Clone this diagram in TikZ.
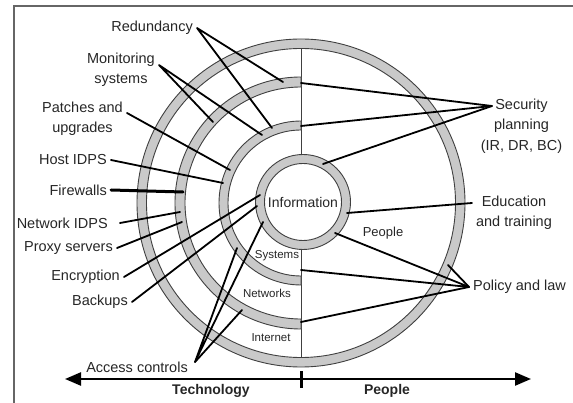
\documentclass[tikz,border=0pt]{standalone}
\usepackage{fontspec}
\setmainfont{Liberation Sans}
\usetikzlibrary{arrows.meta,positioning}

\begin{document}
\begin{tikzpicture}[
x=1pt, y=-1pt,
every node/.style={text=black!85},
lbl/.style={
font=\fontsize{14.5}{20.5}\selectfont,
inner xsep=4pt,
inner ysep=1pt,
align=center
},
zone/.style={font=\fontsize{11.5}{13}\selectfont, inner sep=1pt},
band/.style={draw=black!75, line width=0.9pt, fill=black!21},
lead/.style={line width=1.8pt, line cap=round, line join=round},
axis/.style={{Triangle[length=16pt,width=13pt]}-{Triangle[length=16pt,width=13pt]}, line width=2.4pt},
frame/.style={draw=black!60, line width=1.2pt}
]

% Frame
\useasboundingbox (0,0) rectangle (573,403);
\draw[frame] (14,403) -- (14,6) -- (573,6);

% Divider and rings
\coordinate (c) at (301,203);
\draw[black!75, line width=0.9pt] (301,48) -- (301,358);
\path[band, even odd rule] (c) circle[radius=164pt] (c) circle[radius=154.5pt];
\path[band] (301,77) arc[start angle=90, end angle=270, radius=126pt]
  -- (301,319) arc[start angle=270, end angle=90, radius=116pt] -- cycle;
\path[band] (301,121) arc[start angle=90, end angle=270, radius=82pt]
  -- (301,276) arc[start angle=270, end angle=90, radius=73pt] -- cycle;
\node[circle, band, minimum size=95pt, inner sep=0pt] (info) at (303,202) {};
\node[circle, draw=black!75, line width=0.9pt, fill=white, minimum size=77pt, inner sep=0pt,
  font=\fontsize{14}{16}\selectfont] (infoin) at (303,202) {Information};

% Zone labels
\node[zone] (sys) at (277,256) {Systems};
\node[zone] (net) at (267,293) {Networks};
\node[zone] (inet) at (271,338) {Internet};
\node[font=\fontsize{13}{15}\selectfont] (ppl) at (383,233) {People};

% Left labels
\node[lbl, anchor=east] (red) at (197,28) {Redundancy};
\node[lbl, anchor=east] (monit) at (159,70) {Monitoring\\systems};
\node[lbl, anchor=east] (patch) at (127,119) {Patches and\\upgrades};
\node[lbl, anchor=east] (host) at (111,160) {Host IDPS};
\node[lbl, anchor=east] (fire) at (111,190) {Firewalls};
\node[lbl, anchor=east] (netids) at (112,223) {Network IDPS};
\node[lbl, anchor=east] (proxy) at (117,248) {Proxy servers};
\node[lbl, anchor=east] (encr) at (124,277) {Encryption};
\node[lbl, anchor=east] (backup) at (132,302) {Backups};
\node[lbl, anchor=east] (access) at (192,367) {Access controls};

% Right labels
\node[lbl] (secplan) at (521.5,126) {Security\\planning\\(IR, DR, BC)};
\node[lbl] (edu) at (514,213) {Education\\and training};
\node[lbl, anchor=west] (policy) at (469,287) {Policy and law};
\coordinate (sechub) at (492,106);
\coordinate (eduhub) at (472,203);

% Points on the rings
\coordinate (red1) at (283,82);
\coordinate (red2) at (272,128);
\coordinate (mon1) at (213,122);
\coordinate (mon2) at (262,135);
\coordinate (pat1) at (230,170);
\coordinate (host1) at (223,183);
\coordinate (fire1) at (183,192);
\coordinate (nids1) at (180,212);
\coordinate (proxy1) at (182,222);
\coordinate (enc1) at (260,195);
\coordinate (bak1) at (257,206);
\coordinate (acc1) at (237,248);
\coordinate (acc2) at (263,222);
\coordinate (acc3) at (242,310);
\coordinate (sec1) at (301,83);
\coordinate (sec2) at (301,126);
\coordinate (sec3) at (323,164);
\coordinate (edu1) at (347,213);
\coordinate (pol1) at (335,233);
\coordinate (pol2) at (301,270);
\coordinate (pol3) at (301,322);
\coordinate (pol4) at (448,265);

% Leaders
\draw[lead] (red1) -- (red.east) -- (red2);
\draw[lead] (mon1) -- ([yshift=5pt]monit.east) -- (mon2);
\draw[lead] ([yshift=6pt]patch.east) -- (pat1);
\draw[lead] (host.east) -- (host1);
\draw[lead, line width=3pt] (fire.east) -- (fire1);
\draw[lead] ([xshift=8pt]netids.east) -- (nids1);
\draw[lead] (proxy.east) -- (proxy1);
\draw[lead] (encr.east) -- (enc1);
\draw[lead] (backup.east) -- (bak1);
\draw[lead] (acc1) -- ([xshift=3pt,yshift=5pt]access.east) -- (acc2);
\draw[lead] ([xshift=3pt,yshift=5pt]access.east) -- (acc3);
\draw[lead] (sec1) -- (sechub) -- (sec2);
\draw[lead] (sechub) -- (sec3);
\draw[lead] (eduhub) -- (edu1);
\draw[lead] (pol1) -- (policy.west) -- (pol2);
\draw[lead] (pol3) -- (policy.west) -- (pol4);

% Axis
\coordinate (axl) at (65,379);
\coordinate (axr) at (531,379);
\draw[axis] (axl) -- (axr);
\draw[line width=3pt] (301,371) -- (301,388);
\node[font=\bfseries\fontsize{14}{16}\selectfont] (tech) at (211,391) {Technology};
\node[font=\bfseries\fontsize{14}{16}\selectfont] (peop) at (387,391) {People};

\end{tikzpicture}
\end{document}
